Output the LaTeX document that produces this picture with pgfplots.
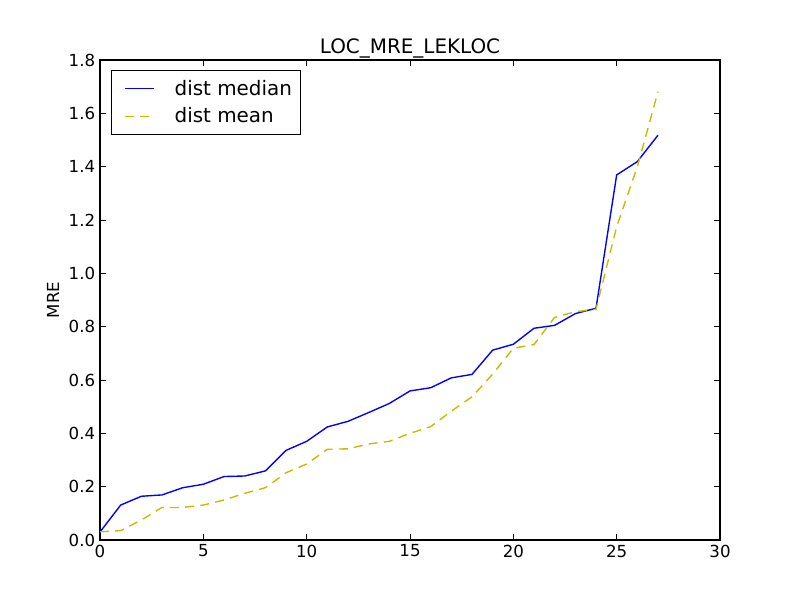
\documentclass[border=0pt]{standalone}
\usepackage{pgfplots}
\pgfplotsset{compat=1.18}
\usepackage{fontspec}
\setmainfont{DejaVu Sans}
\begin{document}
\begin{tikzpicture}
\path[use as bounding box] (0,0) rectangle (8in,6in);
\begin{axis}[
  at={(1in,0.6in)}, anchor=south west,
  scale only axis, width=6.2in, height=4.8in,
  xmin=0, xmax=30, ymin=0, ymax=1.8,
  xtick={0,5,...,30},
  ytick={0,0.2,...,1.8},
  yticklabel style={/pgf/number format/.cd,fixed,fixed zerofill,precision=1},
  /pgf/number format/assume math mode=true,
  tick label style={font=\fontsize{12}{14}\selectfont},
  major tick length=4pt,
  tick style={black, line width=0.6pt},
  axis line style={line width=0.8pt},
  ylabel={MRE},
  ylabel style={font=\fontsize{12}{14}\selectfont},
  title={LOC\_MRE\_LEKLOC},
  title style={font=\fontsize{14.4}{16}\selectfont, yshift=-8pt},
  legend style={at={(0.017,0.979)}, anchor=north west, draw=black, line width=0.6pt,
    font=\fontsize{14.4}{17}\selectfont, inner xsep=4pt, inner ysep=5pt, row sep=3.5pt},
  legend cell align=left,
  legend image code/.code={\path[draw=none,fill=none] (-6pt,0pt) -- (34pt,0pt); \draw[#1] (0pt,0pt) -- (21pt,0pt);},
]
\addplot[color=blue, line width=1pt] coordinates {
(0,0.03) (1,0.131) (2,0.164) (3,0.169) (4,0.196) (5,0.209) (6,0.238) (7,0.240)
(8,0.259) (9,0.336) (10,0.370) (11,0.424) (12,0.445) (13,0.478) (14,0.512)
(15,0.559) (16,0.571) (17,0.608) (18,0.621) (19,0.712) (20,0.734) (21,0.794)
(22,0.805) (23,0.849) (24,0.869) (25,1.369) (26,1.419) (27,1.518)
};
\addlegendentry{dist median}
\addplot[color={rgb,1:red,0.75;green,0.75;blue,0}, line width=1pt, dash pattern=on 6.5pt off 4.5pt] coordinates {
(0,0.031) (1,0.035) (2,0.075) (3,0.122) (4,0.122) (5,0.131) (6,0.150) (7,0.175)
(8,0.196) (9,0.252) (10,0.285) (11,0.340) (12,0.342) (13,0.360) (14,0.370)
(15,0.400) (16,0.425) (17,0.483) (18,0.537) (19,0.622) (20,0.719) (21,0.733)
(22,0.835) (23,0.856) (24,0.865) (25,1.175) (26,1.400) (27,1.681)
};
\addlegendentry{dist mean}
\end{axis}
\end{tikzpicture}
\end{document}
